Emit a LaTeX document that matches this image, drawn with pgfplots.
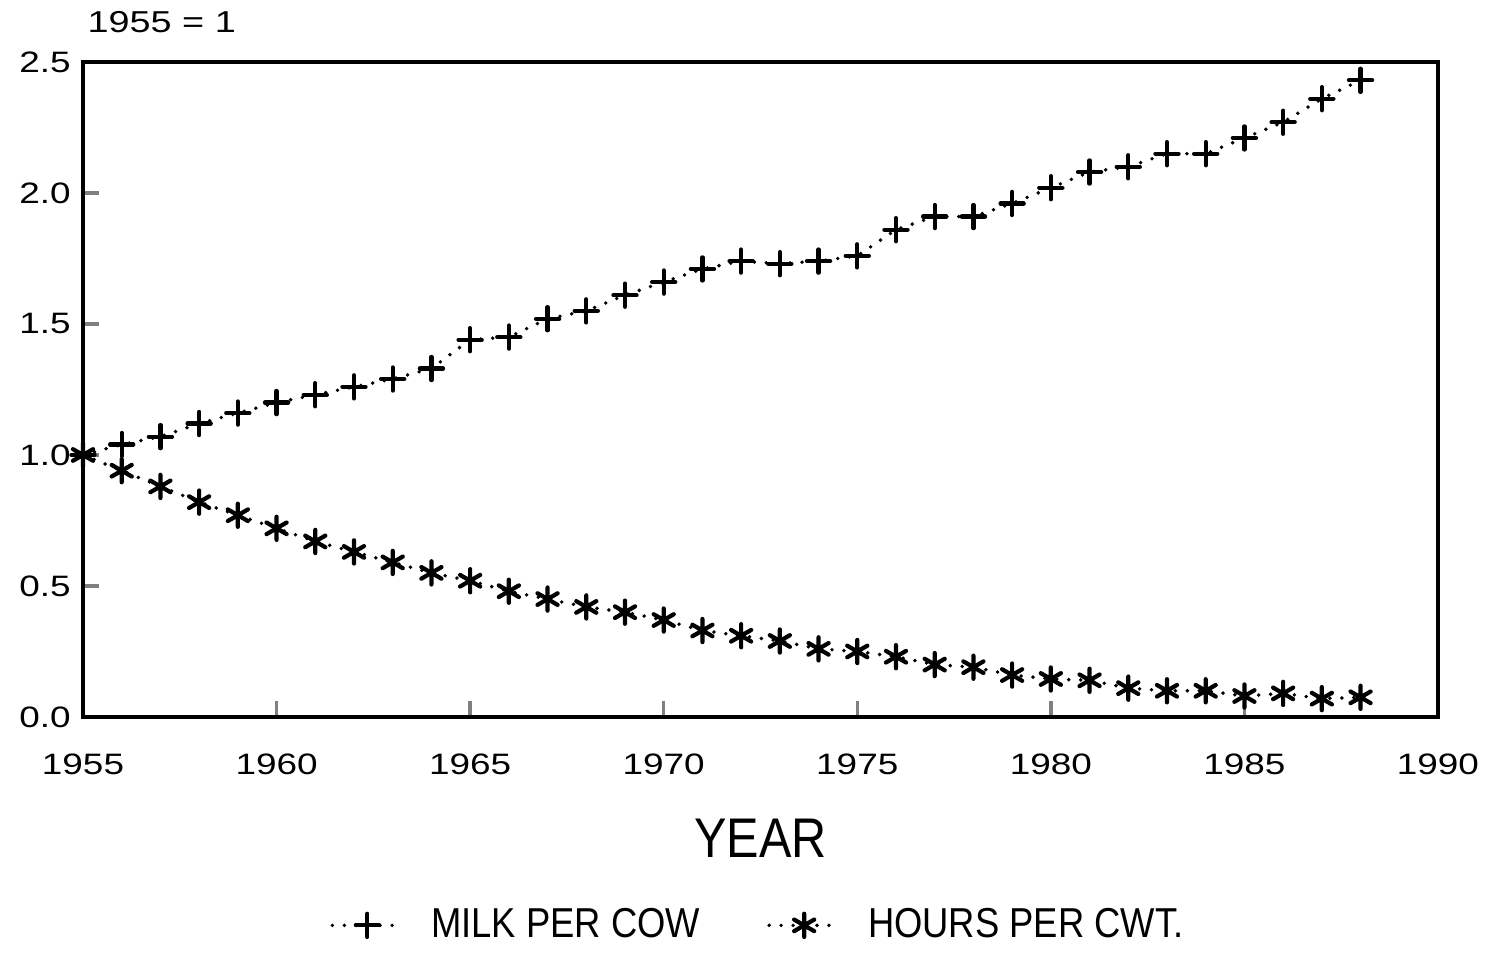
\documentclass[border=0pt]{standalone}
\usepackage{fontspec}
\setmainfont{Liberation Sans}
\newfontfamily\widefont{Liberation Sans}[FakeStretch=1.25]
\newfontfamily\narrowfont{Liberation Sans}[FakeStretch=0.87]
\usepackage{pgfplots}
\pgfplotsset{compat=1.18}

\pgfplotstableread{
year milk hours
1955 1.00 1.00
1956 1.04 0.94
1957 1.07 0.88
1958 1.12 0.82
1959 1.16 0.77
1960 1.20 0.72
1961 1.23 0.67
1962 1.26 0.63
1963 1.29 0.59
1964 1.33 0.55
1965 1.44 0.52
1966 1.45 0.48
1967 1.52 0.45
1968 1.55 0.42
1969 1.61 0.40
1970 1.66 0.37
1971 1.71 0.33
1972 1.74 0.31
1973 1.73 0.29
1974 1.74 0.26
1975 1.76 0.25
1976 1.86 0.23
1977 1.91 0.20
1978 1.91 0.19
1979 1.96 0.16
1980 2.02 0.145
1981 2.08 0.14
1982 2.10 0.11
1983 2.15 0.10
1984 2.15 0.10
1985 2.21 0.08
1986 2.27 0.09
1987 2.36 0.07
1988 2.43 0.075
}\dairy

\begin{document}
\begin{tikzpicture}
\begin{axis}[
  scale only axis,
  width=13.55cm, height=6.55cm,
  xmin=1955, xmax=1990,
  ymin=0, ymax=2.5,
  xtick={1955,1960,...,1990},
  ytick={0,0.5,...,2.5},
  xticklabel style={/pgf/number format/1000 sep={}, yshift=-7pt},
  yticklabel style={/pgf/number format/.cd,fixed,fixed zerofill,precision=1},
  /pgf/number format/assume math mode=true,
  tick label style={font=\widefont\fontsize{8.4}{10}\selectfont},
  tick align=inside, xtick pos=bottom, ytick pos=left,
  major tick length=0.16cm,
  axis line style={line width=1.2pt},
  major tick style={line width=1pt},
  legend style={at={(0.5,-0.367)}, anchor=south, draw=none,
    font=\narrowfont\fontsize{11.9}{14}\selectfont, legend columns=2,
    /tikz/every odd column/.append style={column sep=0.2cm},
    /tikz/every even column/.append style={column sep=0.6cm}},
  legend image code/.code={%
    \draw[mark repeat=2,mark phase=2,#1]
      plot coordinates {(0cm,0cm) (0.35cm,0cm) (0.7cm,0cm)};},
  legend cell align=left,
  clip=false,
]
\addplot[black, line width=1.1pt, line cap=round, dash pattern=on 0pt off 3.4pt,
  mark=+, mark size=3.3pt, mark options={solid, line width=1.2pt}]
  table[x=year, y=milk] {\dairy};
\addlegendentry{MILK PER COW}
\addplot[black, line width=1.1pt, line cap=round, dash pattern=on 0pt off 3.4pt,
  mark=asterisk, mark size=3.3pt, mark options={solid, line width=1.2pt}]
  table[x=year, y=hours] {\dairy};
\addlegendentry{HOURS PER CWT.}
\node[anchor=base west, font=\widefont\fontsize{8.6}{10}\selectfont, inner sep=0pt,
  yshift=0.29cm, xshift=0.04cm] at (rel axis cs:0,1) {1955 = 1};
\node[anchor=base, font=\narrowfont\fontsize{15.9}{18}\selectfont, inner sep=0pt,
  yshift=-1.41cm] at (rel axis cs:0.5,0) {YEAR};
\path (rel axis cs:0,0) ++(-0.83cm,-2.23cm);
\path (rel axis cs:0,1) ++(14.08cm,0.62cm);
\end{axis}
\end{tikzpicture}
\end{document}
